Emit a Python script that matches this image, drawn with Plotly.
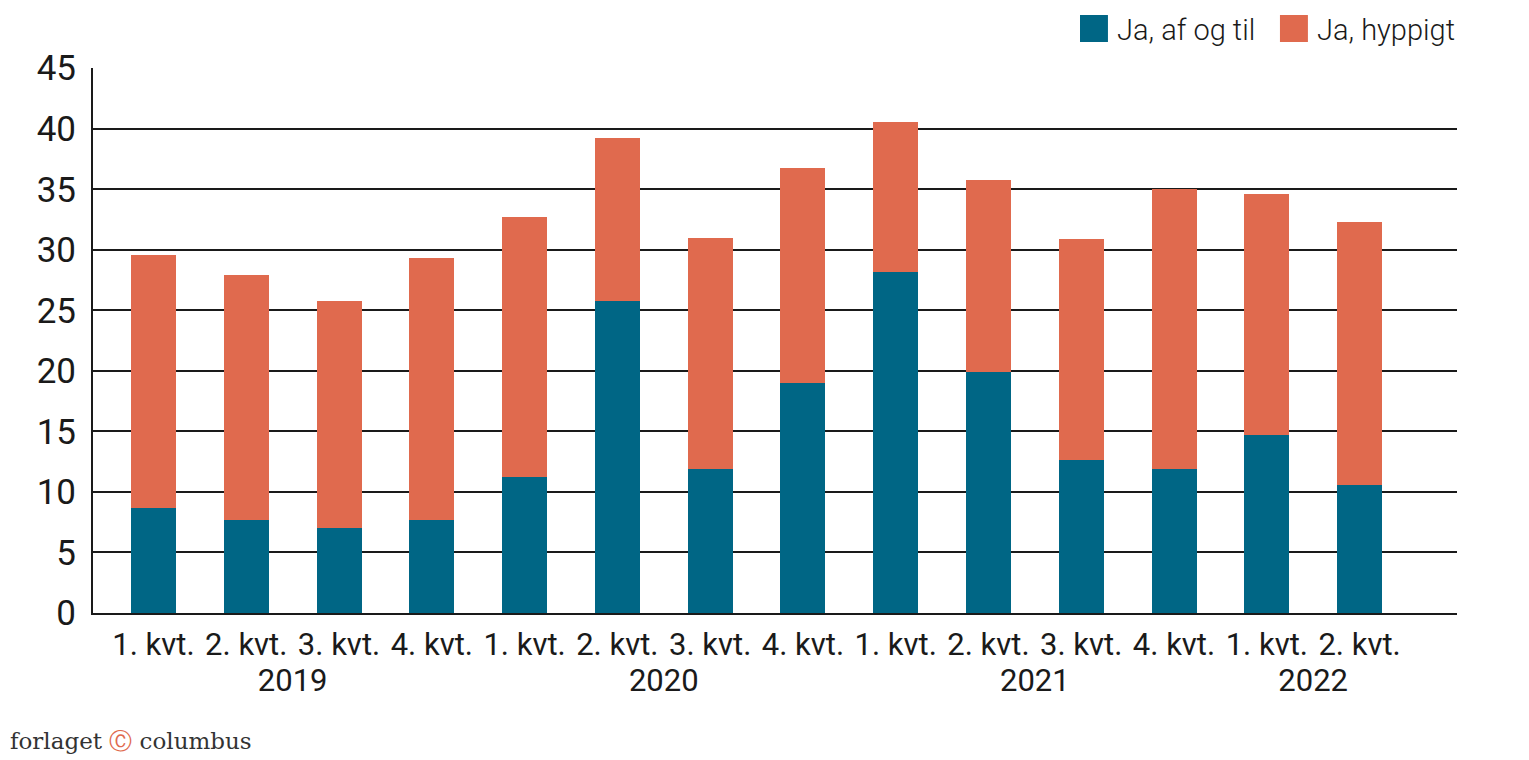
import plotly.graph_objects as go

years = ["2019"] * 4 + ["2020"] * 4 + ["2021"] * 4 + ["2022"] * 2
quarters = ["1. kvt.", "2. kvt.", "3. kvt.", "4. kvt."] * 3 + ["1. kvt.", "2. kvt."]

af_og_til = [8.7, 7.7, 7.0, 7.7, 11.2, 25.8, 11.9, 19.0, 28.2, 19.9, 12.6, 11.9, 14.7, 10.6]
hyppigt = [20.9, 20.2, 18.8, 21.6, 21.5, 13.4, 19.1, 17.8, 12.4, 15.9, 18.3, 23.1, 19.9, 21.7]

series_names = ["Ja, af og til", "Ja, hyppigt"]
colors = ["#006685", "#e06a4e"]

FONT = "Roboto, sans-serif"
INK = "#1a1a1a"

fig = go.Figure()
for name, vals, col in zip(series_names, [af_og_til, hyppigt], colors):
    fig.add_trace(go.Bar(
        x=[years, quarters], y=vals, name=name,
        marker=dict(color=col, line_width=0),
        width=0.485,
    ))

# legend drawn by hand so the swatches can be big
legend_x = [0.7236, 0.8702]
for name, col, lx in zip(series_names, colors, legend_x):
    fig.add_shape(type="rect", xref="paper", yref="paper",
                  x0=lx, x1=lx + 0.0205, y0=1.0477, y1=1.0972,
                  fillcolor=col, line_width=0)
    fig.add_annotation(text=name, xref="paper", yref="paper",
                       x=lx + 0.026, y=1.070, xanchor="left", yanchor="middle",
                       showarrow=False,
                       font=dict(family=FONT, size=29, color=INK, weight=300))

fig.add_annotation(
    text="forlaget <span style='color:#e06a4e'>Ⓒ</span> columbus",
    xref="paper", yref="paper", x=-0.062, y=-0.235,
    xanchor="left", yanchor="middle", showarrow=False,
    font=dict(family="DejaVu Serif, Liberation Serif, serif", size=23, color="#333333"),
)

# page body adds 8px, so margins are trimmed by that much
fig.update_layout(
    width=1529, height=760,
    margin=dict(l=85, r=80, t=60, b=155, autoexpand=False),
    barmode="stack",
    showlegend=False,
    plot_bgcolor="white", paper_bgcolor="white",
    font=dict(family=FONT, color=INK),
)
fig.update_xaxes(
    type="multicategory", range=[-0.652, 14.05],
    showdividers=False, ticks="", showgrid=False, automargin=False,
    tickangle=0, ticklabelstandoff=3,
    showline=True, linecolor=INK, linewidth=2,
    tickfont=dict(size=31, family=FONT, color=INK),
)
fig.update_yaxes(
    range=[0, 45.02], dtick=5, tick0=0, automargin=False,
    showgrid=True, gridcolor=INK, gridwidth=2,
    zeroline=False,
    showline=True, linecolor=INK, linewidth=2,
    ticks="outside", ticklen=8, tickcolor="white",
    tickfont=dict(size=35, family=FONT, color=INK),
)

fig.write_html("out.html")
